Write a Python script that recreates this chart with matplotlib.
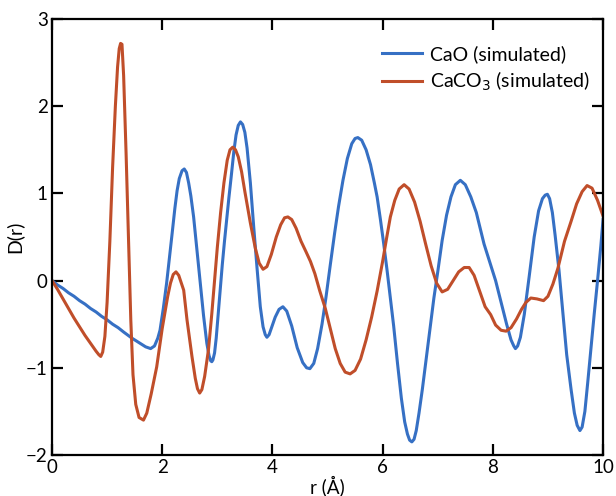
import matplotlib
matplotlib.use("Agg")
import matplotlib.pyplot as plt

plt.rcParams["font.family"] = ["Lato", "DejaVu Sans"]

# CaO (simulated)
r_cao = [0.0, 0.1, 0.2, 0.3, 0.4, 0.5, 0.6, 0.7, 0.8, 0.9, 1.0, 1.1, 1.2, 1.3,
         1.45, 1.6, 1.7, 1.79, 1.86, 1.92, 1.96, 2.02, 2.08, 2.13, 2.18, 2.23,
         2.27, 2.31, 2.36, 2.4, 2.44, 2.48, 2.52, 2.57, 2.63, 2.69, 2.75, 2.81,
         2.85, 2.88, 2.9, 2.92, 2.95, 2.98, 3.01, 3.05, 3.09, 3.13, 3.17, 3.21,
         3.25, 3.3, 3.34, 3.38, 3.42, 3.46, 3.5, 3.54, 3.6, 3.66, 3.72, 3.78,
         3.83, 3.87, 3.9, 3.94, 3.99, 4.05, 4.12, 4.19, 4.26, 4.35, 4.45, 4.55,
         4.62, 4.68, 4.75, 4.82, 4.9, 4.97, 5.05, 5.13, 5.2, 5.28, 5.36, 5.44,
         5.5, 5.55, 5.62, 5.7, 5.78, 5.85, 5.9, 5.96, 6.02, 6.08, 6.14, 6.2,
         6.27, 6.34, 6.4, 6.45, 6.49, 6.53, 6.57, 6.61, 6.66, 6.72, 6.79, 6.86,
         6.93, 7.0, 7.08, 7.16, 7.24, 7.32, 7.41, 7.5, 7.6, 7.7, 7.84, 7.95,
         8.05, 8.15, 8.25, 8.33, 8.38, 8.41, 8.45, 8.5, 8.57, 8.66, 8.75,
         8.83, 8.9, 8.95, 8.99, 9.03, 9.08, 9.13, 9.2, 9.26, 9.34, 9.42, 9.48,
         9.53, 9.58, 9.62, 9.67, 9.72, 9.78, 9.84, 9.9, 9.96, 10.0]
d_cao = [0.0, -0.05, -0.09, -0.14, -0.18, -0.23, -0.27, -0.32, -0.36, -0.41,
         -0.45, -0.5, -0.54, -0.59, -0.66, -0.72, -0.76, -0.78, -0.75, -0.66,
         -0.57, -0.32, -0.03, 0.25, 0.54, 0.83, 1.03, 1.17, 1.26, 1.28, 1.24,
         1.12, 0.97, 0.73, 0.35, -0.03, -0.4, -0.72, -0.86, -0.92, -0.93,
         -0.91, -0.83, -0.66, -0.43, -0.11, 0.18, 0.45, 0.7, 0.95, 1.18, 1.48,
         1.67, 1.78, 1.82, 1.79, 1.7, 1.52, 1.12, 0.62, 0.15, -0.3, -0.53,
         -0.62, -0.65, -0.62, -0.53, -0.42, -0.33, -0.3, -0.35, -0.52, -0.77,
         -0.94, -1.0, -1.01, -0.95, -0.78, -0.5, -0.2, 0.18, 0.55, 0.85, 1.15,
         1.4, 1.57, 1.63, 1.64, 1.61, 1.5, 1.33, 1.12, 0.96, 0.7, 0.42, 0.12,
         -0.2, -0.52, -0.95, -1.35, -1.62, -1.76, -1.83, -1.85, -1.82, -1.72,
         -1.52, -1.25, -0.9, -0.55, -0.2, 0.1, 0.46, 0.75, 0.96, 1.1, 1.15,
         1.1, 0.96, 0.78, 0.42, 0.2, 0.0, -0.25, -0.5, -0.68, -0.75, -0.78,
         -0.75, -0.65, -0.39, 0.05, 0.5, 0.8, 0.94, 0.98, 0.99, 0.94, 0.78,
         0.52, 0.12, -0.3, -0.85, -1.25, -1.52, -1.66, -1.72, -1.68, -1.5,
         -1.18, -0.78, -0.38, 0.0, 0.4, 0.7]

# CaCO3 (simulated)
r_caco3 = [0.0, 0.1, 0.2, 0.3, 0.4, 0.5, 0.6, 0.7, 0.8, 0.85, 0.885, 0.92,
           0.96, 1.0, 1.05, 1.1, 1.15, 1.19, 1.22, 1.245, 1.27, 1.3, 1.345,
           1.39, 1.43, 1.47, 1.52, 1.58, 1.66, 1.72, 1.8, 1.9, 2.0, 2.1, 2.15,
           2.2, 2.25, 2.3, 2.39, 2.45, 2.54, 2.6, 2.64, 2.68, 2.72, 2.77, 2.84,
           2.9, 2.95, 3.0, 3.06, 3.12, 3.18, 3.23, 3.28, 3.33, 3.38, 3.44, 3.5,
           3.6, 3.69, 3.76, 3.83, 3.9, 3.98, 4.07, 4.15, 4.22, 4.28, 4.35,
           4.43, 4.52, 4.61, 4.69, 4.77, 4.86, 4.96, 5.05, 5.14, 5.23, 5.32,
           5.41, 5.5, 5.6, 5.7, 5.8, 5.9, 6.0, 6.07, 6.14, 6.22, 6.3, 6.39,
           6.48, 6.58, 6.68, 6.78, 6.88, 6.98, 7.08, 7.18, 7.28, 7.38, 7.48,
           7.57, 7.66, 7.76, 7.86, 7.96, 8.05, 8.15, 8.24, 8.33, 8.43, 8.52,
           8.6, 8.69, 8.8, 8.92, 9.0, 9.09, 9.18, 9.3, 9.42, 9.52, 9.62, 9.71,
           9.8, 9.9, 10.0]
d_caco3 = [0.0, -0.1, -0.21, -0.32, -0.43, -0.53, -0.63, -0.72, -0.81, -0.85,
           -0.87, -0.82, -0.64, -0.25, 0.45, 1.3, 2.0, 2.45, 2.66, 2.72, 2.71,
           2.35, 1.45, 0.45, -0.45, -1.08, -1.42, -1.57, -1.6, -1.52, -1.3,
           -0.99, -0.55, -0.18, -0.03, 0.07, 0.1, 0.06, -0.11, -0.45, -0.87,
           -1.12, -1.24, -1.29, -1.25, -1.1, -0.79, -0.38, 0.0, 0.38, 0.78,
           1.12, 1.38, 1.5, 1.53, 1.5, 1.42, 1.25, 1.02, 0.66, 0.37, 0.2, 0.13,
           0.16, 0.3, 0.5, 0.64, 0.72, 0.73, 0.7, 0.6, 0.45, 0.33, 0.22, 0.08,
           -0.12, -0.32, -0.55, -0.78, -0.95, -1.05, -1.07, -1.03, -0.9, -0.68,
           -0.42, -0.12, 0.22, 0.48, 0.73, 0.92, 1.05, 1.1, 1.05, 0.9, 0.68,
           0.42, 0.17, -0.03, -0.13, -0.1, 0.0, 0.1, 0.15, 0.15, 0.06, -0.12,
           -0.3, -0.39, -0.51, -0.57, -0.58, -0.54, -0.44, -0.33, -0.25, -0.2,
           -0.21, -0.23, -0.18, -0.04, 0.14, 0.45, 0.68, 0.88, 1.02, 1.09,
           1.06, 0.92, 0.74]

BLUE = "#3670C4"
RED = "#C04E2A"

fig = plt.figure(figsize=(6.16, 4.96), dpi=100)
ax = fig.add_axes([0.0844, 0.0827, 0.8946, 0.879])

ax.plot(r_cao, d_cao, color=BLUE, lw=2.2, label="CaO (simulated)")
ax.plot(r_caco3, d_caco3, color=RED, lw=2.2, label="CaCO$_3$ (simulated)")

ax.set_xlim(0, 10)
ax.set_ylim(-2, 3)
ax.set_xticks([0, 2, 4, 6, 8, 10])
ax.set_yticks([-2, -1, 0, 1, 2, 3])
ax.tick_params(direction="in", length=8, width=1.6, labelsize=13.5,
               top=True, right=True, pad=3)
for s in ax.spines.values():
    s.set_linewidth(1.6)

ax.set_xlabel("r (Å)", fontsize=13.5, labelpad=-1)
ax.set_ylabel("D(r)", fontsize=14, labelpad=2)

ax.legend(loc="upper left", bbox_to_anchor=(0.598, 0.94), frameon=False,
          fontsize=14, handlelength=2.1, handletextpad=0.4,
          labelspacing=0.35, borderpad=0, borderaxespad=0)

fig.savefig("out.png", dpi=100)
